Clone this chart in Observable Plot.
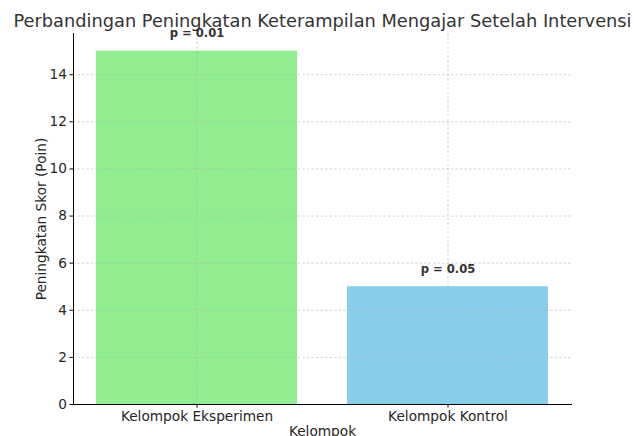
<!DOCTYPE html>
<html>
<head>
<meta charset="utf-8">
<script src="https://cdn.jsdelivr.net/npm/d3@7"></script>
<script src="https://cdn.jsdelivr.net/npm/@observablehq/plot@0.6"></script>
<style>
  html, body { margin: 0; padding: 0; background: #fff; overflow: hidden; }
  #chart { width: 634px; height: 436px; }
</style>
</head>
<body>
<div id="chart"></div>
<script>
const categories = ["Kelompok Eksperimen", "Kelompok Kontrol"];
const scores = [15, 5];
const pLabels = ["p = 0.01", "p = 0.05"];
const colors = ["#90EE90", "#87CEEB"];
const yTicks = [0, 2, 4, 6, 8, 10, 12, 14];
const title = "Perbandingan Peningkatan Keterampilan Mengajar Setelah Intervensi";

const data = categories.map((c, i) => ({group: c, score: scores[i], p: pLabels[i], color: colors[i]}));

const font = "DejaVu Sans, sans-serif";
const chart = Plot.plot({
  width: 634,
  height: 436,
  marginTop: 33,
  marginBottom: 32,
  marginLeft: 73,
  marginRight: 63,
  style: {fontFamily: font, fontSize: "13.7px", color: "#262626", background: "#fff", overflow: "visible"},
  x: {domain: categories, paddingInner: 0.2, paddingOuter: 0.092, align: 0.5},
  y: {domain: [0, 15.75]},
  marks: [
    Plot.barY(data, {x: "group", y: "score", fill: "color"}),
    Plot.gridY(yTicks, {stroke: "#b0b0b0", strokeOpacity: 0.7, strokeWidth: 0.8, strokeDasharray: "2.5,2"}),
    Plot.gridX(categories, {stroke: "#b0b0b0", strokeOpacity: 0.7, strokeWidth: 0.8, strokeDasharray: "2.5,2"}),
    Plot.frame({anchor: "left", stroke: "#000", strokeOpacity: 1, strokeWidth: 1}),
    Plot.frame({anchor: "bottom", stroke: "#000", strokeOpacity: 1, strokeWidth: 1}),
    Plot.axisY(yTicks, {tickSize: 3.5, tickPadding: 3, fontSize: 13.7, stroke: "#000", color: "#262626",
      label: "Peningkatan Skor (Poin)", labelAnchor: "center", labelArrow: "none", labelOffset: 37}),
    Plot.axisX({tickSize: 3.5, tickPadding: 3, fontSize: 13.7, stroke: "#000",
      label: "Kelompok", labelAnchor: "center", labelArrow: "none", labelOffset: 31}),
    Plot.text(data, {x: "group", y: d => d.score + 0.5, text: "p", lineAnchor: "bottom", dy: -2,
      fontWeight: "bold", fontSize: 11.6, fill: "#333"}),
    Plot.text([title], {frameAnchor: "top", dy: -12, lineAnchor: "middle", text: d => d,
      fontSize: 17.8, fill: "#333"})
  ]
});
document.getElementById("chart").appendChild(chart);
</script>
</body>
</html>
